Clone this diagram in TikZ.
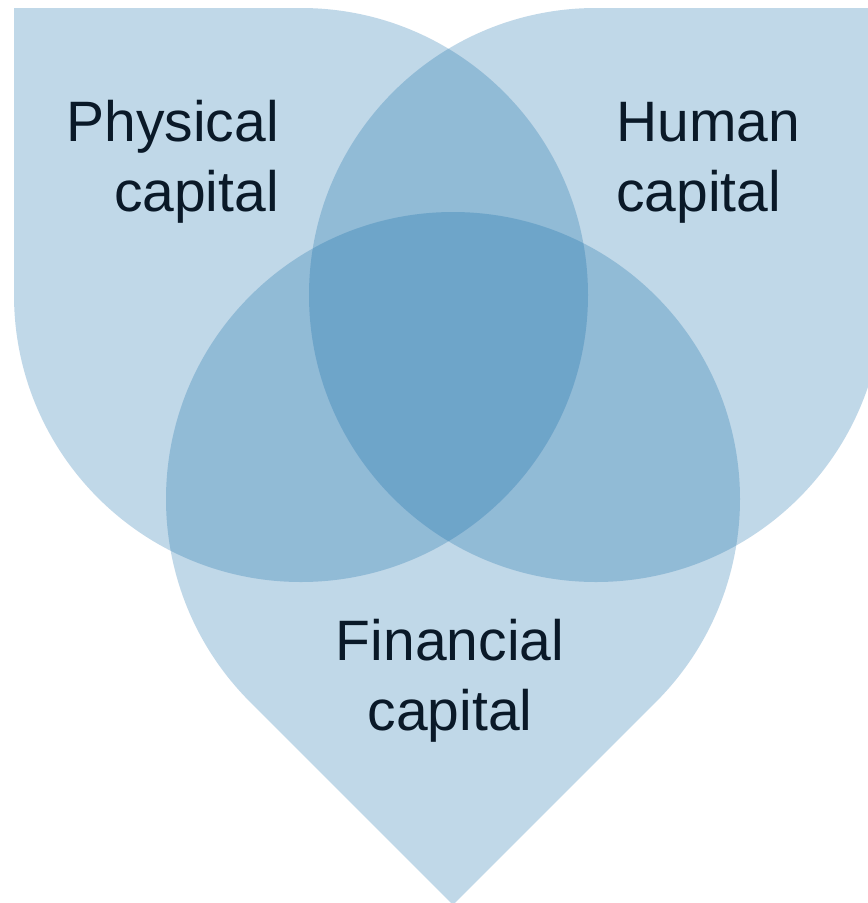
\documentclass[tikz,border=0pt]{standalone}
\usepackage{fontspec}
\setmainfont{Liberation Sans}
\definecolor{petal}{RGB}{7,101,164}
\definecolor{ink}{RGB}{10,25,40}
\begin{document}
\begin{tikzpicture}[x=1pt,y=-1pt,
  petalshape/.style={fill=petal,fill opacity=0.25,draw=none},
  lbl/.style={text=ink,inner sep=0pt,font=\fontsize{57}{70}\selectfont}]
\useasboundingbox (0,0) rectangle (868,903);
\fill[white] (0,0) rectangle (868,903);
\clip (0,0) rectangle (868,903);
% Physical capital petal
\path[petalshape] (14,8) -- (301,8) arc[start angle=-90,end angle=180,radius=287] -- cycle;
% Human capital petal
\path[petalshape] (883,8) -- (596,8) arc[start angle=-90,end angle=-360,radius=287] -- cycle;
% Financial capital petal
\path[petalshape] (453,904.9) -- (250.06,701.94) arc[start angle=135,end angle=405,radius=287] -- cycle;
% labels (base anchor = baseline of last line)
\node[lbl,align=right,anchor=base east] (phys) at (279,211.7) {Physical\\capital};
\node[lbl,align=left,anchor=base west] (hum) at (616,211.7) {Human\\capital};
\node[lbl,align=center,anchor=base] (fin) at (450,730.7) {Financial\\capital};
\end{tikzpicture}
\end{document}
